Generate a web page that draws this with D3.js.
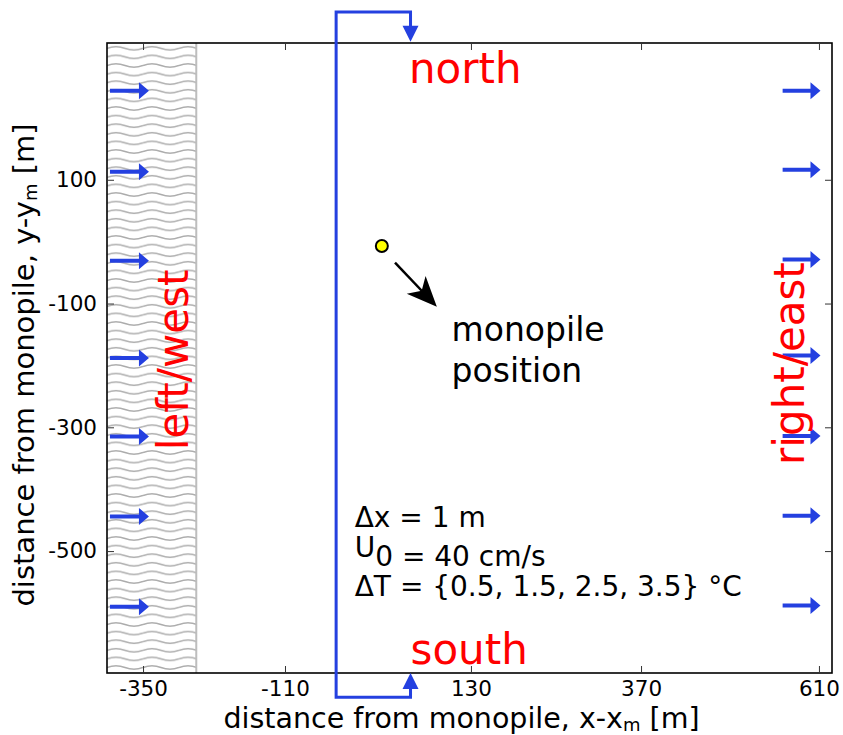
<!DOCTYPE html>
<html>
<head>
<meta charset="utf-8">
<script src="https://cdn.jsdelivr.net/npm/d3@7"></script>
<style>
  body { margin: 0; background: #fff; }
  text { font-family: 'DejaVu Sans', sans-serif; }
</style>
</head>
<body>
<div id="chart"></div>
<script>
const width = 843,
      height = 735,
      margin = { top: 43, right: 11, bottom: 62, left: 107 };

// axis extents and tick labels (m)
const xDomain = [-411, 627];
const yDomain = [-697, 321];
const xTicks = [-350, -110, 130, 370, 610];
const yTicks = [100, -100, -300, -500];

// wavy wall band on the west side
const wallBand = [-411, -260];

// inflow arrows: y positions and x start/end
const westArrowY = [244, 113, -31, -188, -315, -444, -590];
const eastArrowY = [244, 116, -29, -184, -314, -443, -588];
const westArrowX = [-406, -340];
const eastArrowX = [561, 612];

// periodic boundary loop (north <-> south)
const loopX = [-44, 52];
const loopY = [371, -736];
const loopTips = [323, -697];

// monopile and its annotation
const monopile = { x: 15, y: -7 };
const pointerFrom = { x: 32, y: -34 };
const pointerTo = { x: 86, y: -105 };
const monopileLabel = ['monopile', 'position'];
const monopileLabelX = 105;
const monopileLabelY = [-160, -226];

// red side labels
const sideLabels = [
  { text: 'north', x: 50, y: 257, rotate: 0 },
  { text: 'south', x: 52, y: -683, rotate: 0 },
  { text: 'left/west', x: -274, y: -191, rotate: -90 },
  { text: 'right/east', x: 590, y: -197, rotate: -90 }
];

// run parameters
const infoX = -20;
const infoY = [-461, -524, -572];

const innerW = width - margin.left - margin.right,
      innerH = height - margin.top - margin.bottom;

// the tick labels in the figure are not evenly spaced, so the x scale is piecewise
const xBreaks = [xDomain[0], ...xTicks, xDomain[1]];
const xFrac = [0, 0.0497, 0.2455, 0.502, 0.7366, 0.982, 1];
const x = d3.scaleLinear()
    .domain(xBreaks)
    .range(xFrac.map(f => margin.left + f * innerW));

const y = d3.scaleLinear()
    .domain(yDomain)
    .range([height - margin.bottom, margin.top]);

const svg = d3.select('#chart').append('svg')
    .attr('width', width)
    .attr('height', height);

svg.append('rect').attr('width', width).attr('height', height).attr('fill', '#fff');

const defs = svg.append('defs');
const pat = defs.append('pattern')
    .attr('id', 'waves')
    .attr('patternUnits', 'userSpaceOnUse')
    .attr('x', margin.left).attr('y', margin.top + 1)
    .attr('width', 36).attr('height', 8.6);
pat.append('path')
    .attr('d', 'M0,4.3 Q9,0.9 18,4.3 T36,4.3')
    .attr('fill', 'none')
    .attr('stroke', '#ababab')
    .attr('stroke-width', 1.5);

// wall band
svg.append('rect')
    .attr('x', x(wallBand[0]))
    .attr('y', margin.top)
    .attr('width', x(wallBand[1]) - x(wallBand[0]))
    .attr('height', innerH)
    .attr('fill', 'url(#waves)');
svg.append('line')
    .attr('x1', x(wallBand[1])).attr('x2', x(wallBand[1]))
    .attr('y1', margin.top).attr('y2', height - margin.bottom)
    .attr('stroke', '#bdbdbd').attr('stroke-width', 2);

const blue = '#2440e0';

function arrowShape(x0, y0, x1, y1, shaft, headLen, headW) {
    const dx = x1 - x0, dy = y1 - y0, len = Math.hypot(dx, dy);
    const ux = dx / len, uy = dy / len, px = -uy, py = ux;
    const bx = x1 - ux * headLen, by = y1 - uy * headLen;
    const pts = [
        [x0 + px * shaft / 2, y0 + py * shaft / 2],
        [bx + px * shaft / 2, by + py * shaft / 2],
        [bx + px * headW / 2, by + py * headW / 2],
        [x1, y1],
        [bx - px * headW / 2, by - py * headW / 2],
        [bx - px * shaft / 2, by - py * shaft / 2],
        [x0 - px * shaft / 2, y0 - py * shaft / 2]
    ];
    return 'M' + pts.map(p => p.join(',')).join('L') + 'Z';
}

// inflow arrows
svg.append('g').selectAll('path')
    .data(westArrowY)
    .join('path')
    .attr('d', d => arrowShape(x(westArrowX[0]), y(d), x(westArrowX[1]), y(d), 4, 10, 17))
    .attr('fill', blue);
svg.append('g').selectAll('path')
    .data(eastArrowY)
    .join('path')
    .attr('d', d => arrowShape(x(eastArrowX[0]), y(d), x(eastArrowX[1]), y(d), 4, 10, 17))
    .attr('fill', blue);

// frame
svg.append('rect')
    .attr('x', margin.left).attr('y', margin.top)
    .attr('width', innerW).attr('height', innerH)
    .attr('fill', 'none')
    .attr('stroke', '#000')
    .attr('stroke-width', 1.6);

// axes with inward ticks on all four sides
const fmt = d => String(d);
svg.append('g')
    .attr('transform', `translate(0,${height - margin.bottom})`)
    .call(d3.axisBottom(x).tickValues(xTicks).tickFormat(fmt)
        .tickSizeInner(-7).tickSizeOuter(0).tickPadding(8));
svg.append('g')
    .attr('transform', `translate(0,${margin.top})`)
    .call(d3.axisTop(x).tickValues(xTicks).tickSizeInner(-7).tickSizeOuter(0).tickFormat(''));
svg.append('g')
    .attr('transform', `translate(${margin.left},0)`)
    .call(d3.axisLeft(y).tickValues(yTicks).tickFormat(fmt)
        .tickSizeInner(-7).tickSizeOuter(0).tickPadding(10));
svg.append('g')
    .attr('transform', `translate(${width - margin.right},0)`)
    .call(d3.axisRight(y).tickValues(yTicks).tickSizeInner(-7).tickSizeOuter(0).tickFormat(''));

svg.selectAll('.domain').remove();
svg.selectAll('.tick line').attr('stroke', '#333').attr('stroke-width', 1);
svg.selectAll('.tick text')
    .attr('fill', '#000')
    .style('font-size', '21.5px')
    .style('font-family', "'DejaVu Sans', sans-serif");

// periodic boundary loop
svg.append('path')
    .attr('d', `M${x(loopX[1])},${y(loopTips[0]) - 14}` +
               `V${y(loopY[0])}H${x(loopX[0])}V${y(loopY[1])}H${x(loopX[1])}` +
               `V${y(loopTips[1]) + 14}`)
    .attr('fill', 'none')
    .attr('stroke', blue)
    .attr('stroke-width', 3);
svg.append('path')
    .attr('d', arrowShape(x(loopX[1]), y(loopY[0]), x(loopX[1]), y(loopTips[0]), 3, 16, 16))
    .attr('fill', blue);
svg.append('path')
    .attr('d', arrowShape(x(loopX[1]), y(loopY[1]), x(loopX[1]), y(loopTips[1]), 3, 16, 16))
    .attr('fill', blue);

// monopile
svg.append('circle')
    .attr('cx', x(monopile.x)).attr('cy', y(monopile.y))
    .attr('r', 6)
    .attr('fill', '#ffff00')
    .attr('stroke', '#000')
    .attr('stroke-width', 2);

{
    const x0 = x(pointerFrom.x), y0 = y(pointerFrom.y),
          x1 = x(pointerTo.x), y1 = y(pointerTo.y);
    const len = Math.hypot(x1 - x0, y1 - y0),
          ux = (x1 - x0) / len, uy = (y1 - y0) / len, px = -uy, py = ux;
    const hl = 30, hw = 13, notch = 8;
    const bx = x1 - ux * hl, by = y1 - uy * hl;
    svg.append('line')
        .attr('x1', x0).attr('y1', y0)
        .attr('x2', x1 - ux * 14).attr('y2', y1 - uy * 14)
        .attr('stroke', '#000').attr('stroke-width', 2.5);
    svg.append('path')
        .attr('d', `M${x1},${y1}L${bx + px * hw},${by + py * hw}` +
                   `L${bx + ux * notch},${by + uy * notch}L${bx - px * hw},${by - py * hw}Z`)
        .attr('fill', '#000');
}

const mpText = svg.append('text')
    .attr('fill', '#000')
    .style('font-size', '33px');
mpText.selectAll('tspan')
    .data(monopileLabel)
    .join('tspan')
    .attr('x', x(monopileLabelX))
    .attr('y', (d, i) => y(monopileLabelY[i]))
    .text(d => d);

// red labels
svg.append('g').selectAll('text')
    .data(sideLabels)
    .join('text')
    .attr('transform', d => `translate(${x(d.x)},${y(d.y)}) rotate(${d.rotate})`)
    .attr('text-anchor', d => d.rotate ? 'middle' : 'start')
    .attr('fill', '#ff0000')
    .style('font-size', '42px')
    .text(d => d.text);

// parameter text, one text element with a tspan per line
const info = svg.append('text')
    .attr('fill', '#000')
    .style('font-size', '28px');
info.append('tspan')
    .attr('x', x(infoX)).attr('y', y(infoY[0]))
    .text('\u0394x = 1 m');
info.append('tspan')
    .attr('x', x(infoX)).attr('y', y(infoY[1]) - 9)
    .text('U');
info.append('tspan')
    .attr('y', y(infoY[1]))
    .text('0 = 40 cm/s');
info.append('tspan')
    .attr('x', x(infoX)).attr('y', y(infoY[2]))
    .text('\u0394T = {0.5, 1.5, 2.5, 3.5} \u00b0C');

// axis labels
const xLabel = svg.append('text')
    .attr('x', margin.left + innerW / 2 - 8)
    .attr('y', height - 7)
    .attr('text-anchor', 'middle')
    .attr('fill', '#000')
    .style('font-size', '28.5px');
xLabel.append('tspan').text('distance from monopile, x-x');
xLabel.append('tspan').attr('dy', 3).style('font-size', '18px').text('m');
xLabel.append('tspan').attr('dy', -3).text(' [m]');

const yLabel = svg.append('text')
    .attr('transform', `translate(34,${margin.top + innerH / 2 + 7}) rotate(-90)`)
    .attr('text-anchor', 'middle')
    .attr('fill', '#000')
    .style('font-size', '29px');
yLabel.append('tspan').text('distance from monopile, y-y');
yLabel.append('tspan').attr('dy', 3).style('font-size', '18px').text('m');
yLabel.append('tspan').attr('dy', -3).text(' [m]');
</script>
</body>
</html>
